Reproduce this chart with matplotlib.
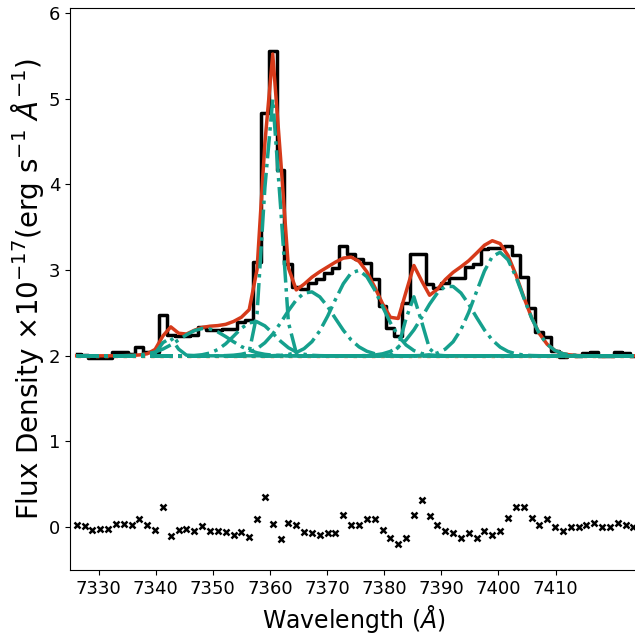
import numpy as np
import matplotlib
matplotlib.use('Agg')
from matplotlib import pyplot as plt

# wavelength grid of the spectrum (bin centres, Angstrom)
wave = np.linspace(7326.17, 7423.65, 72)

# fit residuals (data - model)
resid = [0.02, 0.01, -0.03, -0.02, -0.02, 0.04, 0.04, 0.02, 0.09, 0.02, -0.03, 0.24,
         -0.10, -0.03, -0.02, -0.05, 0.01, -0.05, -0.05, -0.06, -0.09, -0.06, -0.12,
         0.09, 0.35, 0.04, -0.14, 0.05, 0.03, -0.06, -0.07, -0.09, -0.07, -0.07,
         0.14, 0.03, 0.03, 0.10, 0.09, -0.03, -0.13, -0.20, -0.13, 0.14, 0.32,
         0.13, 0.02, -0.04, -0.07, -0.13, -0.07, -0.13, -0.05, -0.09, -0.05, 0.11,
         0.23, 0.23, 0.11, 0.02, 0.09, 0.0, -0.04, 0.0, 0.0, 0.03, 0.05, 0.0, 0.0,
         0.05, 0.03, 0.0]

# gaussian components of the fit
continuum = 2.0
centres = [7342.29, 7348.58, 7357.31, 7360.41, 7366.92, 7375.31, 7385.14, 7391.38, 7400.11]
amps = [0.22, 0.32, 0.40, 3.00, 0.75, 1.00, 0.69, 0.82, 1.21]
sigmas = [1.20, 4.37, 3.49, 1.40, 4.37, 4.19, 1.36, 4.37, 4.02]

comps = [a * np.exp(-(wave - c) ** 2 / (2 * s ** 2)) for c, a, s in zip(centres, amps, sigmas)]
model = continuum + np.sum(comps, axis=0)
flux = model + np.array(resid)

fig = plt.figure(figsize=(6.35, 6.38), dpi=100)
ax = fig.add_axes([70 / 635, 68 / 638, 0.895, 562 / 638])

ax.step(wave, flux, where='mid', color='k', lw=2.5, zorder=1)
ax.plot(wave, np.full_like(wave, continuum), ':', color='#f5813f', lw=2.5, zorder=2)
ax.plot(wave, model, '-', color='#d63a1a', lw=2.5, zorder=3)
for comp in comps:
    ax.plot(wave, continuum + comp, '-.', color='#15a08d', lw=2.5, zorder=4)
ax.plot(wave, resid, 'x', color='k', ms=5, mew=1.8, zorder=5)

ax.set_xlim(7325.0, 7424.5)
ax.set_ylim(-0.5, 6.06)
ax.set_xticks(range(7330, 7411, 10))
ax.set_yticks(range(0, 7))
ax.tick_params(labelsize=13)
ax.set_xlabel('Wavelength ($Å$)', fontsize=17)
ax.set_ylabel(r'Flux Density $\times$10$^{-17}$(erg s$^{-1}$ $Å^{-1}$)', fontsize=20, labelpad=2)

fig.savefig('out.png', dpi=100)
